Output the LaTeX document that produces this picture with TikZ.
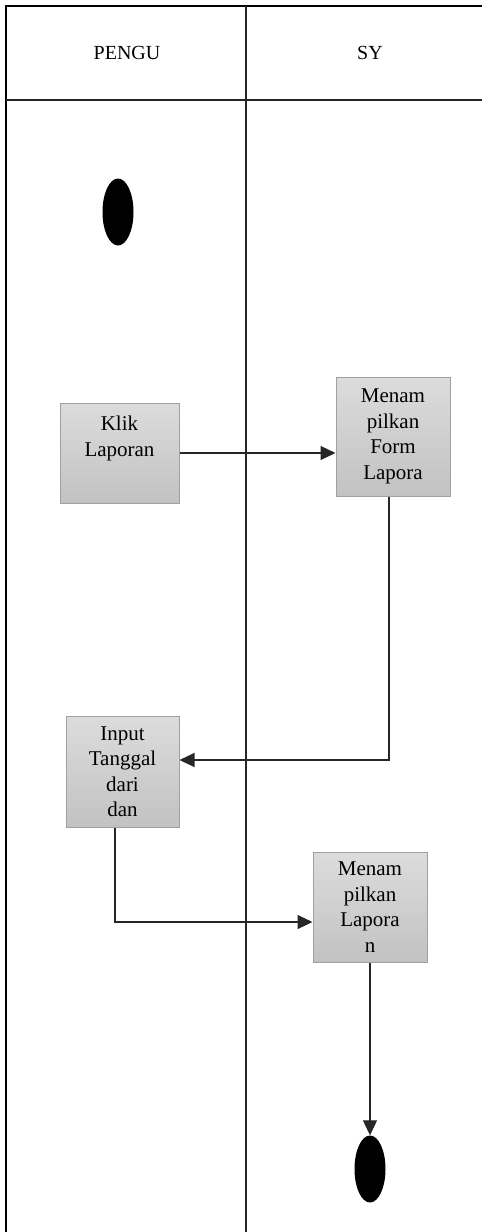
\documentclass[tikz,border=0pt]{standalone}
\usepackage{fontspec}
\setmainfont{Liberation Serif}
\usetikzlibrary{shapes.geometric,arrows.meta,positioning}
\definecolor{boxtop}{RGB}{220,220,220}
\definecolor{boxbottom}{RGB}{194,194,194}
\definecolor{boxline}{RGB}{160,160,160}

\begin{document}
\begin{tikzpicture}[
    x=1pt, y=-1pt,
    lane/.style={line width=2.4pt, black},
    sep/.style={line width=1.3pt, black!85},
    head/.style={font=\fontsize{20}{24}\selectfont},
    act/.style={rectangle, draw=boxline, line width=1pt, top color=boxtop, bottom color=boxbottom,
        align=center, inner sep=0pt, font=\fontsize{21}{25.5}\selectfont},
    dot/.style={ellipse, fill=black, inner sep=0pt, minimum width=31pt, minimum height=67pt},
    flow/.style={-{Triangle[length=15pt,width=14pt]}, line width=1.1pt, black!85}
]
\useasboundingbox (0,0) rectangle (482,1232);

% Swimlanes
\draw[lane] (6,1232) -- (6,6) -- (482,6);
\draw[sep] (6,100) -- (482,100);
\draw[sep] (246,6) -- (246,1232);

% Headers
\node[head] (pengu) at (127,53) {PENGU};
\node[head] (sy) at (370,53) {SY};

% Start
\node[dot] (start) at (118,212) {};

% Activities
\node[act, minimum width=119pt, minimum height=100pt] (klik) at (119.5,453) {Klik\\Laporan\\\strut};
\node[act, minimum width=114pt, minimum height=119pt] (form) at (393,436.5) {Menam\\pilkan\\Form\\Lapora};
\node[act, minimum width=113pt, minimum height=111pt] (input) at (122.5,771.5) {Input\\Tanggal\\dari\\dan};
\node[act, minimum width=114pt, minimum height=110pt] (lap) at (370,907) {Menam\\pilkan\\Lapora\\n};

% End
\node[dot] (end) at (370,1169) {};

% Flow
\draw[flow] (klik.east) -- (klik.east -| form.west);
\draw[flow] ([xshift=-4pt]form.south) |- ([yshift=11.5pt]input.east);
\draw[flow] ([xshift=-7.5pt]input.south) |- ([yshift=-15pt]lap.west);
\draw[flow] (lap.south) -- (end.north);

\end{tikzpicture}
\end{document}
